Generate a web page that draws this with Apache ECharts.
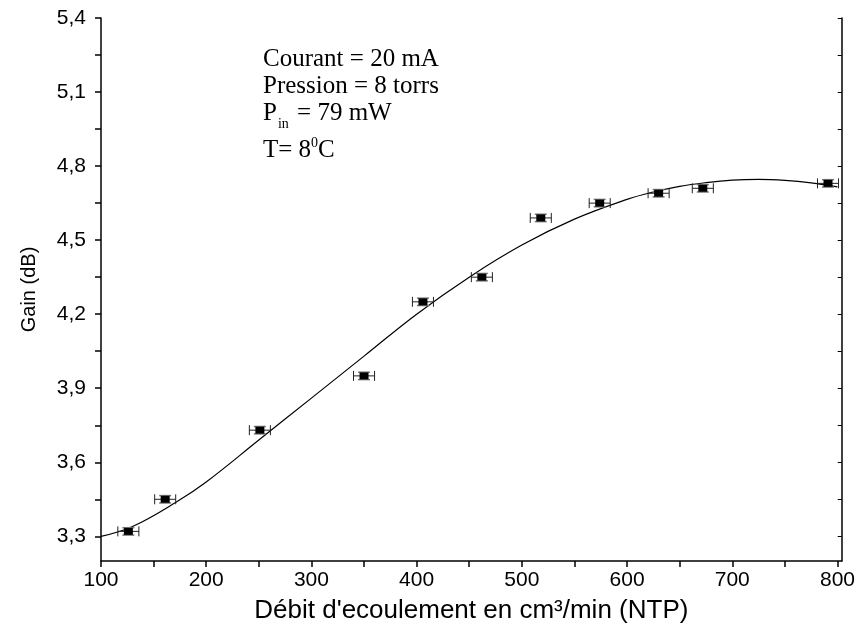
<!DOCTYPE html>
<html>
<head>
<meta charset="utf-8">
<script src="https://cdn.jsdelivr.net/npm/echarts@6/dist/echarts.min.js"></script>
<style>
  html, body { margin: 0; padding: 0; background: #fff; }
  #chart { width: 858px; height: 631px; }
</style>
</head>
<body>
<div id="chart"></div>
<script>
// Measured gain versus gas flow rate
const flow = [126, 161, 251, 350, 406, 462, 518, 574, 630, 672, 791];
const gain = [3.32, 3.45, 3.73, 3.95, 4.25, 4.35, 4.59, 4.65, 4.69, 4.71, 4.73];
const flowErr = [10, 10, 10, 10, 10, 10, 10, 10, 10, 10, 10];
const gainErr = [0.015, 0.015, 0.015, 0.015, 0.015, 0.015, 0.015, 0.015, 0.015, 0.015, 0.015];

// Fitted trend curve
const fitFlow = [100, 130, 172, 200, 250, 300, 350, 400, 450, 500, 550, 600, 625, 650, 675, 700, 725, 750, 775, 800];
const fitGain = [3.30, 3.34, 3.44, 3.52, 3.69, 3.86, 4.03, 4.20, 4.35, 4.48, 4.585, 4.665, 4.695, 4.718, 4.733, 4.743, 4.746, 4.742, 4.732, 4.716];

// Axis ticks and labels
const xLabels = [100, 200, 300, 400, 500, 600, 700, 800];
const xTicks = [100, 150, 200, 250, 300, 350, 400, 450, 500, 550, 600, 650, 700, 750, 800];
const yLabels = [3.3, 3.6, 3.9, 4.2, 4.5, 4.8, 5.1, 5.4];
const yTicks = [3.3, 3.45, 3.6, 3.75, 3.9, 4.05, 4.2, 4.35, 4.5, 4.65, 4.8, 4.95, 5.1, 5.25, 5.4];

const points = flow.map((f, i) => [f, gain[i], flowErr[i], gainErr[i]]);
const fit = fitFlow.map((f, i) => [f, fitGain[i]]);

const sans = 'Liberation Sans, Arial, sans-serif';
const serif = 'Liberation Serif, Times New Roman, serif';

function renderPoint(params, api) {
  const x = api.value(0), y = api.value(1), ex = api.value(2), ey = api.value(3);
  const c = api.coord([x, y]);
  const l = api.coord([x - ex, y]);
  const r = api.coord([x + ex, y]);
  const t = api.coord([x, y + ey]);
  const b = api.coord([x, y - ey]);
  const capH = 5, capW = 6;
  const dark = { stroke: '#222', lineWidth: 1 };
  const grey = { stroke: '#777', lineWidth: 1.5 };
  return {
    type: 'group',
    children: [
      { type: 'line', shape: { x1: l[0], y1: c[1], x2: r[0], y2: c[1] }, style: dark },
      { type: 'line', shape: { x1: l[0], y1: c[1] - capH, x2: l[0], y2: c[1] + capH }, style: dark },
      { type: 'line', shape: { x1: r[0], y1: c[1] - capH, x2: r[0], y2: c[1] + capH }, style: dark },
      { type: 'line', shape: { x1: c[0] - capW, y1: t[1], x2: c[0] + capW, y2: t[1] }, style: grey },
      { type: 'line', shape: { x1: c[0] - capW, y1: b[1], x2: c[0] + capW, y2: b[1] }, style: grey },
      { type: 'rect', shape: { x: c[0] - 4.5, y: c[1] - 3.5, width: 9, height: 7 }, style: { fill: '#000' } }
    ]
  };
}

const yFmt = v => v.toFixed(1).replace('.', ',');

const chart = echarts.init(document.getElementById('chart'), null, { renderer: 'canvas' });
chart.setOption({
  animation: false,
  backgroundColor: '#fff',
  grid: { left: 101, right: 16, top: 18, bottom: 70, containLabel: false },
  xAxis: {
    type: 'value',
    min: 100,
    max: 804,
    name: 'Débit d\'ecoulement en cm³/min (NTP)',
    nameLocation: 'middle',
    nameGap: 37,
    nameTextStyle: { fontFamily: sans, fontSize: 26, color: '#000' },
    axisLine: { show: true, onZero: false, lineStyle: { color: '#000', width: 1.5 } },
    axisTick: { show: true, inside: false, length: 6, customValues: xTicks, lineStyle: { color: '#000', width: 1.5 } },
    axisLabel: { customValues: xLabels, margin: 9, fontFamily: sans, fontSize: 21, color: '#000' },
    splitLine: { show: false }
  },
  yAxis: [{
    type: 'value',
    min: 3.2,
    max: 5.4,
    name: 'Gain (dB)',
    nameLocation: 'middle',
    nameGap: 62,
    nameTextStyle: { fontFamily: sans, fontSize: 20, color: '#000' },
    axisLine: { show: true, onZero: false, lineStyle: { color: '#000', width: 1.5 } },
    axisTick: { show: true, inside: false, length: 6, customValues: yTicks, lineStyle: { color: '#000', width: 1.5 } },
    axisLabel: { customValues: yLabels, margin: 15, formatter: yFmt, fontFamily: sans, fontSize: 21, color: '#000' },
    splitLine: { show: false }
  }, {
    type: 'value',
    position: 'right',
    min: 3.2,
    max: 5.4,
    axisLine: { show: true, onZero: false, lineStyle: { color: '#000', width: 1.5 } },
    axisTick: { show: true, inside: true, length: 4, customValues: yTicks, lineStyle: { color: '#000', width: 1 } },
    axisLabel: { show: false },
    splitLine: { show: false }
  }],
  graphic: [
    { type: 'text', left: 263, top: 47, style: { text: 'Courant = 20 mA', font: '25px ' + serif, fill: '#000' } },
    { type: 'text', left: 263, top: 74, style: { text: 'Pression = 8 torrs', font: '25px ' + serif, fill: '#000' } },
    {
      type: 'text', left: 263, top: 101,
      style: {
        text: '{m|P}{sub|in}{m| = 79 mW}',
        rich: {
          m: { fontFamily: serif, fontSize: 25, lineHeight: 36, verticalAlign: 'middle', fill: '#000' },
          sub: { fontFamily: serif, fontSize: 14, lineHeight: 36, verticalAlign: 'bottom', padding: [0, 2, 0, 1], fill: '#000' }
        }
      }
    },
    {
      type: 'text', left: 263, top: 132,
      style: {
        text: '{m|T= 8}{sup|0}{m|C}',
        rich: {
          m: { fontFamily: serif, fontSize: 25, lineHeight: 36, verticalAlign: 'middle', fill: '#000' },
          sup: { fontFamily: serif, fontSize: 14, lineHeight: 36, verticalAlign: 'top', padding: [4, 0, 0, 0], fill: '#000' }
        }
      }
    }
  ],
  series: [
    {
      type: 'line',
      data: fit,
      smooth: 0.4,
      showSymbol: false,
      symbol: 'none',
      lineStyle: { color: '#000', width: 1.2 },
      z: 2
    },
    {
      type: 'custom',
      data: points,
      renderItem: renderPoint,
      encode: { x: 0, y: 1 },
      z: 3
    }
  ]
});
</script>
</body>
</html>
